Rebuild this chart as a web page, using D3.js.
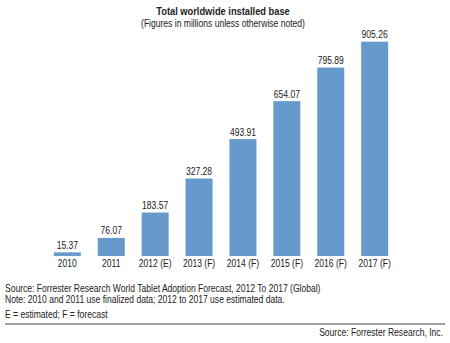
<!DOCTYPE html>
<html><head><meta charset="utf-8">
<script src="https://cdn.jsdelivr.net/npm/d3@7"></script>
<style>body{margin:0;background:#fff}svg{display:block}text{font-family:"Liberation Sans",Arial,sans-serif;fill:#222}</style>
</head><body><svg id="c" width="450" height="343"></svg>
<script>
const categories = ["2010","2011","2012 (E)","2013 (F)","2014 (F)","2015 (F)","2016 (F)","2017 (F)"];
const values = [15.37,76.07,183.57,327.28,493.91,654.07,795.89,905.26];
const title = "Total worldwide installed base";
const subtitle = "(Figures in millions unless otherwise noted)";
const notes = ["Source: Forrester Research World Tablet Adoption Forecast, 2012 To 2017 (Global)",
  "Note: 2010 and 2011 use finalized data; 2012 to 2017 use estimated data.",
  "E = estimated; F = forecast"];
const credit = "Source: Forrester Research, Inc.";

const K = 0.83; // horizontal condensing to mimic a narrow font
function condense(sel){
  sel.each(function(){
    const w = this.getComputedTextLength();
    d3.select(this).attr("textLength", w*K).attr("lengthAdjust","spacingAndGlyphs");
  });
}

const svg = d3.select("#c");
const x = d3.scaleBand().domain(categories).range([45.5, 396.5]).paddingInner(0.385).paddingOuter(0.19);
const y = d3.scaleLinear().domain([0, 905.26]).range([256, 41.7]);

svg.append("text").attr("x",223).attr("y",15).attr("text-anchor","middle")
  .style("font-weight","bold").style("font-size","11.2px").text(title).call(condense);
svg.append("text").attr("x",223).attr("y",27).attr("text-anchor","middle")
  .style("font-size","10.3px").text(subtitle).call(condense);

svg.selectAll("rect.bar").data(values).join("rect").attr("class","bar")
  .attr("x",(d,i)=>x(categories[i])).attr("width",x.bandwidth())
  .attr("y",d=>y(d)).attr("height",d=>y(0)-y(d)).attr("fill","#6699cc");
svg.selectAll("text.val").data(values).join("text").attr("class","val")
  .attr("x",(d,i)=>x(categories[i])+x.bandwidth()/2).attr("y",d=>y(d)-3.5)
  .attr("text-anchor","middle").style("font-size","10.3px").text(d=>d.toFixed(2)).call(condense);

const ax = svg.append("g").attr("transform","translate(0,256)").call(d3.axisBottom(x).tickSize(0).tickPadding(4));
ax.select(".domain").remove();
ax.selectAll("text").style("font-size","10.3px").attr("dy","0.72em").attr("fill",null).style("font-family",null).call(condense);

svg.selectAll("text.note").data(notes).join("text").attr("class","note")
  .attr("x",5).attr("y",(d,i)=>[291.7,302.5,318.3][i]).style("font-size","10.3px").text(d=>d).call(condense);
svg.append("line").attr("x1",5).attr("x2",445).attr("y1",324).attr("y2",324).attr("stroke","#444").attr("stroke-width",1);
svg.append("g").attr("transform",`translate(443,335.5) scale(${K},1)`)
  .append("text").attr("x",0).attr("y",0).attr("text-anchor","end").style("font-size","10.3px").text(credit);
</script></body></html>
